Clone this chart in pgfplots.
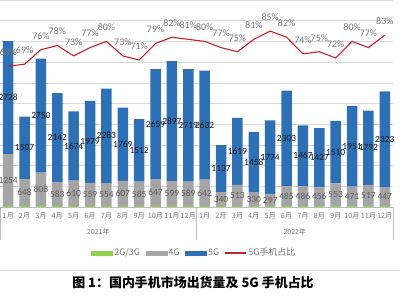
\documentclass[border=0pt]{standalone}
\usepackage{pgfplots}
\pgfplotsset{compat=1.18}
\usepackage{pgfplotstable}
\usepackage{fontspec}
\setmainfont{Carlito}
\newfontfamily\cjk{Noto Sans CJK SC}
\definecolor{c5g}{RGB}{46,112,182}
\definecolor{c4g}{RGB}{165,165,165}
\definecolor{c23}{RGB}{146,208,80}
\definecolor{cline}{RGB}{200,32,44}
\definecolor{lblgray}{RGB}{118,118,118}
\definecolor{lbl4g}{RGB}{95,95,95}
\definecolor{lbl5g}{RGB}{30,30,30}
\definecolor{gridc}{RGB}{217,217,217}

\pgfplotstableread{
x g23 g4 g5 p
0 25 1254 2728 68
1 25 648 1507 69
2 25 808 2750 76
3 25 583 2142 78
4 25 610 1674 73
5 25 559 1979 77
6 25 554 2283 80
7 25 607 1769 73
8 25 585 1512 71
9 25 647 2659 79
10 25 599 2897 82
11 25 589 2719 81
12 20 642 2632 80
13 20 340 1137 77
14 20 513 1619 75
15 20 330 1458 81
16 20 297 1774 85
17 20 485 2303 82
18 20 486 1467 74
19 20 456 1427 75
20 20 553 1510 72
21 20 471 1951 80
22 20 517 1792 77
23 20 447 2323 83
}\data

\pgfplotsset{base/.style={scale only axis, width=393bp, height=207bp,
  at={(0bp,93bp)}, anchor=south west, xmin=-0.5, xmax=23.5, clip=false}}

\begin{document}
\begin{tikzpicture}
\useasboundingbox (0,0) rectangle (400bp,300bp);
\begin{axis}[base, ymin=0, ymax=5000, ybar stacked, bar width=0.64,
  axis x line*=bottom, axis y line*=left,
  y axis line style={draw=none},
  x axis line style={draw=gridc!70!gray, line width=0.7bp},
  ytick={0,500,...,5000}, yticklabels={},
  ymajorgrids, grid style={gridc, line width=0.6bp},
  major tick length=0pt,
  xtick={0,...,23},
  xticklabels={1月,2月,3月,4月,5月,6月,7月,8月,9月,10月,11月,12月,1月,2月,3月,4月,5月,6月,7月,8月,9月,10月,11月,12月},
  xticklabel style={font=\cjk\fontsize{7.3}{8}\selectfont, text=lblgray, yshift=-2bp},
  extra x ticks={-0.5,11.5,23.5}, extra x tick labels={},
  extra x tick style={major tick length=33bp, tick align=outside, xmajorgrids=false,
    tick style={draw=gridc!70!gray, line width=0.7bp}},
  ]
\addplot[fill=c23, draw=none] table[x=x, y=g23]{\data};
\addplot[fill=c4g, draw=none] table[x=x, y=g4]{\data};
\addplot[fill=c5g, draw=none] table[x=x, y=g5]{\data};
\node[font=\cjk\fontsize{7}{8}\selectfont, text=lblgray] at (axis cs:5.5,0) [yshift=-25bp] {2021年};
\node[font=\cjk\fontsize{7}{8}\selectfont, text=lblgray] at (axis cs:17.5,0) [yshift=-25bp] {2022年};
\end{axis}

\begin{axis}[base, ymin=0, ymax=5000, hide axis]
\addplot[draw=none, mark=none, nodes near coords, point meta=explicit symbolic,
  nodes near coords style={anchor=center, font=\fontsize{9.5}{10}\selectfont, text=lbl4g, inner sep=0pt}]
  table[x=x, y expr=\thisrow{g23}+\thisrow{g4}/2, meta=g4]{\data};
\addplot[draw=none, mark=none, nodes near coords, point meta=explicit symbolic,
  nodes near coords style={anchor=center, font=\fontsize{9.5}{10}\selectfont, text=lbl5g, inner sep=0pt}]
  table[x=x, y expr=\thisrow{g23}+\thisrow{g4}+\thisrow{g5}/2, meta=g5]{\data};
\end{axis}

\begin{axis}[base, ymin=0, ymax=100, hide axis,
  legend columns=4,
  legend style={at={(0.494,-0.222)}, anchor=center, draw=none, fill=none,
    font=\cjk\fontsize{9}{10}\selectfont, text=lblgray, inner sep=0pt,
    nodes={inner sep=1.5bp},
    /tikz/every even column/.append style={column sep=4bp}},
  ]
\addlegendimage{legend image code/.code={\fill[c23] (0bp,-2bp) rectangle (21bp,2bp);}}
\addlegendentry{2G/3G}
\addlegendimage{legend image code/.code={\fill[c4g] (0bp,-2bp) rectangle (21bp,2bp);}}
\addlegendentry{4G}
\addlegendimage{legend image code/.code={\fill[c5g] (0bp,-2bp) rectangle (21bp,2bp);}}
\addlegendentry{5G}
\addlegendimage{legend image code/.code={\draw[cline, line width=1.1bp] (0bp,0bp) -- (21bp,0bp);}}
\addlegendentry{5G手机占比}
\addplot[cline, line width=1.1bp, mark=none, forget plot,
  nodes near coords={\pgfplotspointmeta\%}, point meta=explicit symbolic,
  nodes near coords style={anchor=south, yshift=10bp, font=\fontsize{10}{11}\selectfont, text=lblgray, inner sep=0pt}]
  table[x=x, y=p, meta=p]{\data};
\end{axis}

\draw[gridc, line width=0.8bp] (0bp,30bp) -- (400bp,30bp);
\node[font=\cjk\bfseries\fontsize{13}{15}\selectfont, text=black] at (193bp,17bp) {图 1：国内手机市场出货量及 5G 手机占比};
\end{tikzpicture}
\end{document}
